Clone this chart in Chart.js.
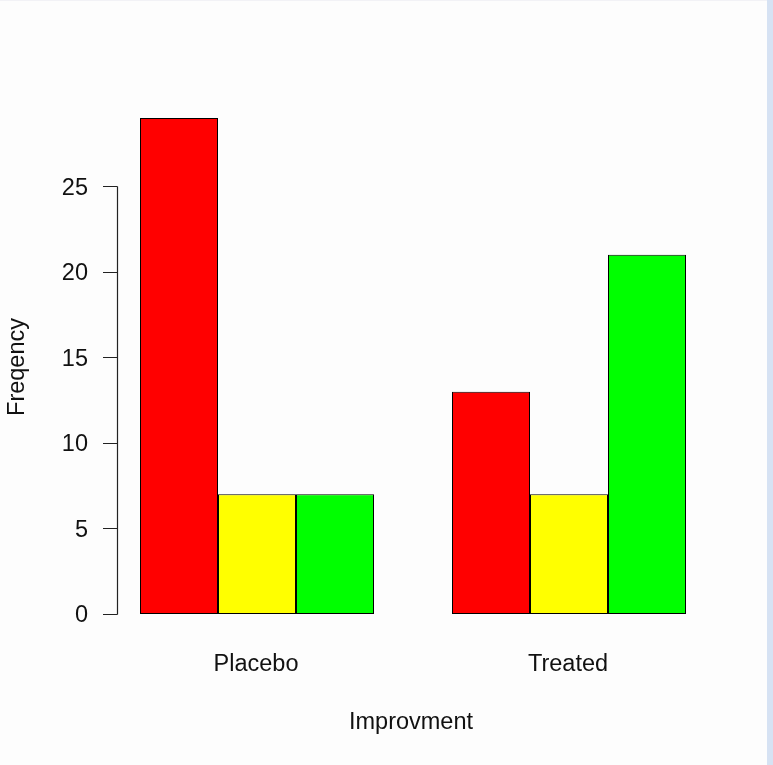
<!DOCTYPE html>
<html>
<head>
<meta charset="utf-8">
<script src="https://cdn.jsdelivr.net/npm/chart.js@4.4.1/dist/chart.umd.min.js"></script>
<style>
  html, body { margin: 0; padding: 0; background: #fdfdfd; }
  #wrap { position: relative; width: 773px; height: 765px; overflow: hidden; }
  #wrap canvas { position: absolute; left: 0; top: 0; }
  #topline { position: absolute; left: 0; top: 0; width: 767px; height: 1px; background: #f2f2f6; }
  #strip { position: absolute; left: 767px; top: 0; width: 6px; height: 765px; background: #d6e2f3; }
</style>
</head>
<body>
<div id="wrap">
  <canvas id="chart" width="767" height="765"></canvas>
  <div id="topline"></div>
  <div id="strip"></div>
</div>
<script>
// Arthritis counts by treatment and improvement
const groups = ['Placebo', 'Treated'];
const levels = ['None', 'Some', 'Marked'];
const noneCounts = [29, 13];
const someCounts = [7, 7];
const markedCounts = [7, 21];
const levelColors = ['#ff0000', '#ffff00', '#00ff00'];
const yTicks = [0, 5, 10, 15, 20, 25];

const xTitle = 'Improvment';
const yTitle = 'Freqency';
const FONT = '23.5px "Liberation Sans", Arial, sans-serif';
const TEXT_COLOR = '#111111';

const seriesValues = [noneCounts, someCounts, markedCounts];

// R style axes: drawn by hand but placed with the chart's own scales
const baseAxesPlugin = {
    id: 'baseAxes',
    afterDraw(chart) {
        const ctx = chart.ctx;
        const y = chart.scales.y;
        const x = chart.scales.x;
        const area = chart.chartArea;
        const axisX = area.left + 16;

        ctx.save();
        ctx.strokeStyle = '#222';
        ctx.lineWidth = 1.2;
        ctx.beginPath();
        ctx.moveTo(axisX + 0.5, Math.round(y.getPixelForValue(yTicks[0])) + 0.5);
        ctx.lineTo(axisX + 0.5, Math.round(y.getPixelForValue(yTicks[yTicks.length - 1])) + 0.5);
        yTicks.forEach((t) => {
            const py = Math.round(y.getPixelForValue(t)) + 0.5;
            ctx.moveTo(axisX + 0.5, py);
            ctx.lineTo(axisX - 14, py);
        });
        ctx.stroke();

        ctx.fillStyle = TEXT_COLOR;
        ctx.font = FONT;
        ctx.textAlign = 'right';
        ctx.textBaseline = 'middle';
        yTicks.forEach((t) => {
            ctx.fillText(String(t), axisX - 29, y.getPixelForValue(t) + 2);
        });

        ctx.textAlign = 'center';
        groups.forEach((g, i) => {
            ctx.fillText(g, x.getPixelForValue(i) - 1, area.bottom + 51);
        });
        ctx.fillText(xTitle, (area.left + area.right) / 2 - 2, area.bottom + 109);

        ctx.translate(18, (area.top + area.bottom) / 2 + 1);
        ctx.rotate(-Math.PI / 2);
        ctx.fillText(yTitle, 0, 0);
        ctx.restore();
    }
};

const ctx = document.getElementById('chart').getContext('2d');

new Chart(ctx, {
    type: 'bar',
    data: {
        labels: groups,
        datasets: levels.map((lvl, i) => ({
            label: lvl,
            data: seriesValues[i],
            backgroundColor: levelColors[i],
            borderColor: '#000000',
            borderWidth: 1,
            borderSkipped: false,
            barPercentage: 1.0,
            categoryPercentage: 0.75
        }))
    },
    options: {
        responsive: false,
        animation: false,
        events: [],
        layout: {
            padding: { left: 101, right: 42, top: 118, bottom: 151 }
        },
        scales: {
            x: { display: false, offset: true },
            y: { display: false, min: 0, max: 29 }
        },
        plugins: {
            legend: { display: false },
            tooltip: { enabled: false }
        }
    },
    plugins: [baseAxesPlugin]
});
</script>
</body>
</html>
